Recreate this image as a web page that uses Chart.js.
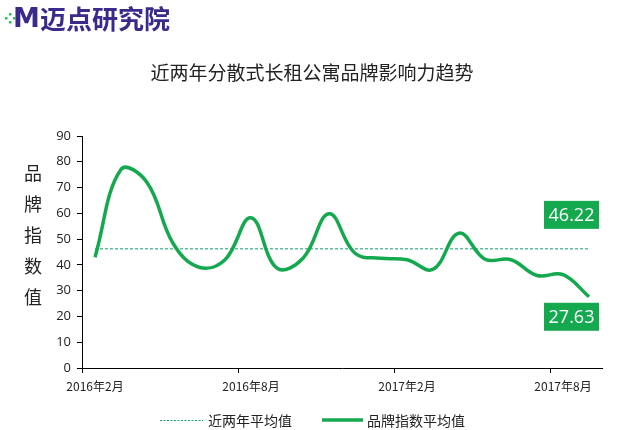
<!DOCTYPE html>
<html>
<head>
<meta charset="utf-8">
<script src="https://cdn.jsdelivr.net/npm/chart.js@4/dist/chart.umd.min.js"></script>
<style>
    html, body { margin: 0; padding: 0; background: #fff; }
    #wrap { width: 636px; height: 430px; position: relative; }
</style>
</head>
<body>
<div id="wrap"><canvas id="trendChart" width="636" height="430"></canvas></div>
<script>
// Data
const months = [
    '2016年2月', '2016年3月', '2016年4月', '2016年5月', '2016年6月', '2016年7月',
    '2016年8月', '2016年9月', '2016年10月', '2016年11月', '2016年12月', '2017年1月',
    '2017年2月', '2017年3月', '2017年4月', '2017年5月', '2017年6月', '2017年7月',
    '2017年8月', '2017年9月'
];
const brandIndex = [
    43.0, 77.0, 72.0, 48.4, 39.1, 42.0, 58.3, 38.7, 42.6, 59.8,
    44.5, 42.6, 42.0, 38.3, 52.3, 42.2, 42.0, 35.9, 36.2, 27.63
];
const twoYearAvg = 46.22;
const avgLine = months.map(() => twoYearAvg);
const yTicks = [0, 10, 20, 30, 40, 50, 60, 70, 80, 90];

const GREEN = '#14a84f';
const AVG_GREEN = '#0f9d6a';
const PURPLE = '#3a2a8c';
const CJK = '"Noto Sans CJK SC", "Noto Sans", sans-serif';

// Title, logo, axis title, legend and value boxes
const decorPlugin = {
    id: 'decor',
    afterDraw(chart) {
        const ctx = chart.ctx;
        ctx.save();

        // logo
        ctx.fillStyle = '#2fbf5a';
        [[9, 13], [13, 17], [9, 21], [5, 17]].forEach(p => ctx.fillRect(p[0], p[1], 2.5, 2.5));
        ctx.fillStyle = PURPLE;
        ctx.font = 'bold 27px "DejaVu Sans", sans-serif';
        ctx.textBaseline = 'middle';
        ctx.textAlign = 'left';
        ctx.fillText('M', 13, 20);
        ctx.font = 'bold 26px ' + CJK;
        ctx.fillText('迈点研究院', 40, 19);

        // title
        ctx.fillStyle = '#222';
        ctx.font = '19px ' + CJK;
        ctx.textAlign = 'center';
        ctx.fillText('近两年分散式长租公寓品牌影响力趋势', 312, 73);

        // y axis title, stacked characters
        ctx.font = '18px ' + CJK;
        ctx.fillStyle = '#222';
        '品牌指数值'.split('').forEach((c, i) => ctx.fillText(c, 33, 173 + i * 31));

        // value boxes
        const meta = chart.getDatasetMeta(1);
        const last = meta.data[meta.data.length - 1];
        const avgMeta = chart.getDatasetMeta(0);
        const avgPt = avgMeta.data[avgMeta.data.length - 1];
        ctx.font = '18px "Open Sans", sans-serif';
        [[twoYearAvg, avgPt.y - 34], [brandIndex[brandIndex.length - 1], last.y + 20]].forEach(([v, cy]) => {
            ctx.fillStyle = GREEN;
            ctx.fillRect(544, cy - 14, 55, 28);
            ctx.fillStyle = '#fff';
            ctx.textAlign = 'center';
            ctx.fillText(v.toFixed(2), 571.5, cy + 1);
        });

        // legend
        ctx.textAlign = 'left';
        ctx.strokeStyle = AVG_GREEN;
        ctx.lineWidth = 1;
        ctx.setLineDash([2, 1.5]);
        ctx.beginPath();
        ctx.moveTo(160, 420.5);
        ctx.lineTo(203, 420.5);
        ctx.stroke();
        ctx.setLineDash([]);
        ctx.strokeStyle = GREEN;
        ctx.lineWidth = 3.5;
        ctx.beginPath();
        ctx.moveTo(322, 420);
        ctx.lineTo(363, 420);
        ctx.stroke();
        ctx.fillStyle = '#222';
        ctx.font = '14px ' + CJK;
        ctx.fillText('近两年平均值', 208, 421);
        ctx.fillText('品牌指数平均值', 367, 421);

        ctx.restore();
    }
};

const ctx = document.getElementById('trendChart').getContext('2d');
new Chart(ctx, {
    type: 'line',
    data: {
        labels: months,
        datasets: [
            {
                label: '近两年平均值',
                data: avgLine,
                borderColor: AVG_GREEN,
                borderWidth: 1,
                borderDash: [3, 2],
                pointRadius: 0,
                tension: 0,
                order: 2,
            },
            {
                label: '品牌指数平均值',
                data: brandIndex,
                borderColor: GREEN,
                borderWidth: 3.5,
                pointRadius: 0,
                tension: 0.4,
                cubicInterpolationMode: 'default',
                order: 1,
            },
        ],
    },
    options: {
        responsive: false,
        animation: false,
        layout: { padding: { top: 136, right: 34, bottom: 32, left: 0 } },
        plugins: {
            legend: { display: false },
            tooltip: { enabled: false },
        },
        scales: {
            x: {
                offset: true,
                afterFit: scale => { scale.height = 30; },
                grid: {
                    offset: true,
                    drawOnChartArea: false,
                    tickLength: 5,
                    color: c => (c.index % 6 === 0 ? '#000' : 'rgba(0,0,0,0)'),
                },
                border: { color: '#000', width: 1 },
                ticks: {
                    autoSkip: false,
                    maxRotation: 0,
                    padding: 6,
                    color: '#222',
                    font: { size: 12, family: CJK },
                    callback: (v, i) => (i % 6 === 0 ? months[i] : ''),
                },
            },
            y: {
                min: 0,
                max: 90,
                afterFit: scale => { scale.width = 82; },
                afterBuildTicks: scale => { scale.ticks = yTicks.map(v => ({ value: v })); },
                grid: { drawOnChartArea: false, tickLength: 5, color: '#000' },
                border: { color: '#000', width: 1 },
                ticks: {
                    padding: 6,
                    color: '#222',
                    font: { size: 13, family: '"Open Sans", sans-serif' },
                },
            },
        },
    },
    plugins: [decorPlugin],
});
</script>
</body>
</html>
